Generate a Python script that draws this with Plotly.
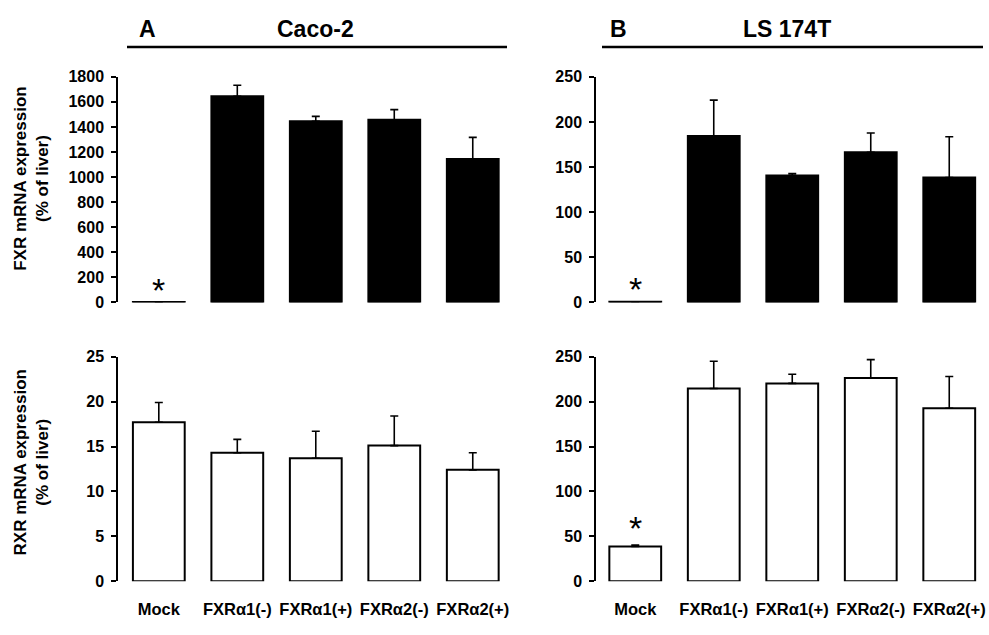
import plotly.graph_objects as go
from plotly.subplots import make_subplots

# Transfected constructs (shared x categories)
categories = ["Mock", "FXRα1(-)", "FXRα1(+)", "FXRα2(-)", "FXRα2(+)"]

# FXR mRNA expression (% of liver): mean and SD
caco2_fxr = [3, 1644, 1445, 1457, 1145]
caco2_fxr_sd = [0, 89, 39, 81, 172]
ls174t_fxr = [0.8, 184.5, 140.6, 166.3, 138.4]
ls174t_fxr_sd = [0, 39.7, 2.1, 21.5, 45.1]

# RXR mRNA expression (% of liver): mean and SD
caco2_rxr = [17.7, 14.3, 13.7, 15.1, 12.4]
caco2_rxr_sd = [2.2, 1.5, 3.0, 3.3, 1.9]
ls174t_rxr = [38.7, 214.6, 220.3, 226.2, 192.6]
ls174t_rxr_sd = [1.7, 30.3, 10.2, 20.5, 35.3]

FONT = "Liberation Sans, Arial, sans-serif"
W, H = 989, 635


def px_x(p):
    return p / W


def px_y(p):
    return 1 - p / H


fig = make_subplots(rows=2, cols=2)

panels = [
    (1, 1, caco2_fxr, caco2_fxr_sd, "black"),
    (1, 2, ls174t_fxr, ls174t_fxr_sd, "black"),
    (2, 1, caco2_rxr, caco2_rxr_sd, "white"),
    (2, 2, ls174t_rxr, ls174t_rxr_sd, "white"),
]
for row, col, vals, sd, fill in panels:
    fig.add_trace(
        go.Bar(
            x=list(range(len(categories))),
            y=vals,
            width=0.66,
            marker=dict(color=fill, line=dict(color="black", width=2)),
            error_y=dict(
                type="data",
                symmetric=False,
                array=sd,
                arrayminus=[0] * len(sd),
                color="black",
                thickness=1.6,
                width=4,
            ),
            showlegend=False,
        ),
        row=row,
        col=col,
    )

# axis geometry (pixel positions of the plotting areas)
x_left = [px_x(118), px_x(512)]
x_right = [px_x(596), px_x(988.5)]
y_top = [px_y(302.5), px_y(70.7)]
y_bot = [px_y(589), px_y(358.3)]

y_ranges = {(1, 1): (1800, 200), (1, 2): (250, 50), (2, 1): (25, 5), (2, 2): (250, 50)}
domains = {
    (1, 1): (x_left, y_top),
    (1, 2): (x_right, y_top),
    (2, 1): (x_left, y_bot),
    (2, 2): (x_right, y_bot),
}

for (row, col), (xd, yd) in domains.items():
    ymax, dt = y_ranges[(row, col)]
    fig.update_xaxes(
        domain=xd,
        range=[-0.52, 4.5] if col == 1 else [-0.5, 4.5],
        tickmode="array",
        tickvals=list(range(len(categories))),
        ticktext=categories,
        showticklabels=(row == 2),
        ticks="",
        showline=False,
        showgrid=False,
        zeroline=False,
        ticklabelstandoff=16,
        tickfont=dict(family=FONT, size=16.5, color="black", weight="bold"),
        row=row,
        col=col,
    )
    fig.update_yaxes(
        domain=yd,
        range=[0, ymax],
        dtick=dt,
        showline=True,
        linecolor="black",
        linewidth=1.5,
        ticks="outside",
        ticklen=5,
        tickwidth=1.5,
        tickcolor="black",
        ticklabelstandoff=4,
        showgrid=False,
        zeroline=False,
        tickfont=dict(family=FONT, size=16, color="black", weight="bold"),
        row=row,
        col=col,
    )

annotations = []

# panel headers with underline
headers = [("A", 147, "Caco-2", 315, 127, 507), ("B", 618, "LS 174T", 787, 602, 983)]
shapes = []
for letter, lx, name, nx, x0, x1 in headers:
    annotations.append(dict(
        text=letter, x=px_x(lx), y=px_y(21.5), xref="paper", yref="paper",
        xanchor="center", yanchor="middle", showarrow=False,
        font=dict(family=FONT, size=23, color="black", weight="bold"),
    ))
    annotations.append(dict(
        text=name, x=px_x(nx), y=px_y(21.5), xref="paper", yref="paper",
        xanchor="center", yanchor="middle", showarrow=False,
        font=dict(family=FONT, size=23, color="black", weight="bold"),
    ))
    shapes.append(dict(
        type="line", xref="paper", yref="paper",
        x0=px_x(x0), x1=px_x(x1), y0=px_y(40), y1=px_y(40),
        line=dict(color="black", width=2.5),
    ))

# y-axis titles
for title, cy in [("FXR mRNA expression<br>(% of liver)", 175),
                  ("RXR mRNA expression<br>(% of liver)", 467.5)]:
    annotations.append(dict(
        text=title, x=px_x(31.5), y=px_y(cy), xref="paper", yref="paper",
        xanchor="center", yanchor="middle", textangle=-90, showarrow=False,
        font=dict(family=FONT, size=17, color="black", weight="bold"),
    ))

# significance markers above the Mock bars
for xref, yref, yv in [("x", "y", 175), ("x2", "y2", 26), ("x4", "y4", 70)]:
    annotations.append(dict(
        text="*", x=0, y=yv, xref=xref, yref=yref,
        xanchor="center", yanchor="middle", yshift=-10, showarrow=False,
        font=dict(family=FONT, size=34, color="black"),
    ))

fig.update_layout(
    width=W,
    height=H,
    margin=dict(l=0, r=0, t=0, b=0),
    paper_bgcolor="white",
    plot_bgcolor="white",
    annotations=annotations,
    shapes=shapes,
    bargap=0.34,
)

fig.write_html("out.html")
